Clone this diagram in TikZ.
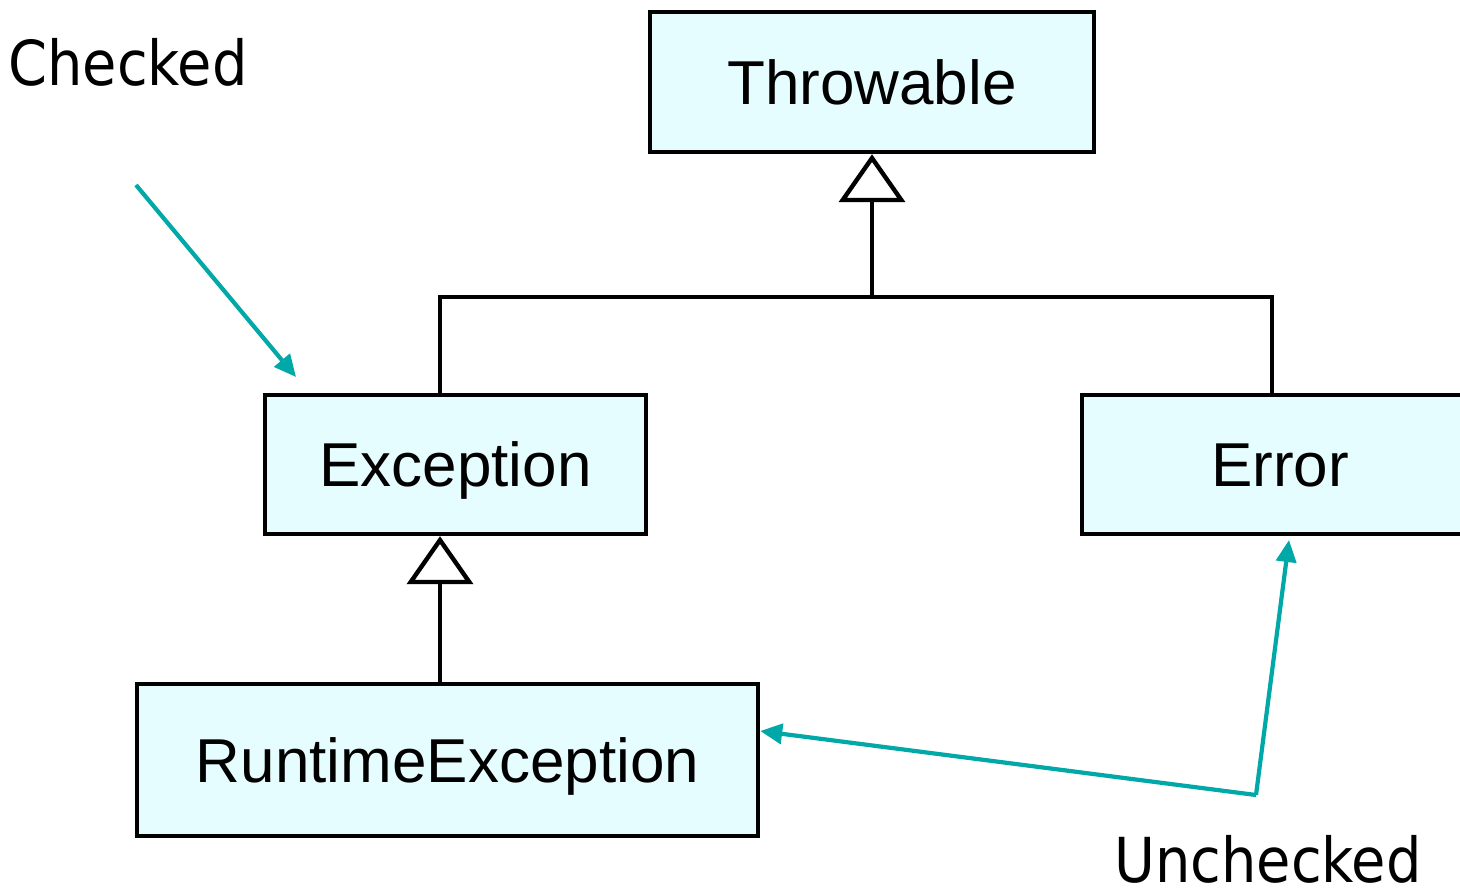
\documentclass[tikz,border=0pt]{standalone}
\usepackage{fontspec}
\setmainfont{Liberation Sans}
\newfontfamily\notefont{DejaVu Sans Condensed}
\usetikzlibrary{arrows.meta}
\definecolor{boxfill}{RGB}{230,253,255}
\definecolor{noteteal}{RGB}{0,168,168}
\tikzset{
  classbox/.style={draw=black, fill=boxfill, line width=2.2pt, rectangle, inner sep=0pt,
    font=\fontsize{31}{36}\selectfont, text height=22.2pt, text depth=0pt},
  inherit/.style={draw=black, line width=2.2pt},
  inherittip/.style={inherit, -{Triangle[open, length=24pt, width=33pt, line width=2.2pt]}},
  notearrow/.style={draw=noteteal, line width=2.1pt, -{Triangle[length=11pt, width=10pt]}},
  notelabel/.style={font=\notefont\fontsize{31}{36}\selectfont, inner sep=0pt}
}
\begin{document}
\begin{tikzpicture}[x=0.5pt, y=-0.5pt]
  \useasboundingbox (0,0) rectangle (1460,889);

  % class boxes
  \node[classbox, minimum width=222pt, minimum height=70pt] (thr) at (872,82) {Throwable};
  \node[classbox, minimum width=190.5pt, minimum height=69.5pt] (exc) at (455.5,464.5) {Exception};
  \node[classbox, minimum width=198pt, minimum height=69.5pt] (err) at (1280,464.5) {Error};
  \node[classbox, minimum width=310.5pt, minimum height=76pt] (rt) at (447.5,760) {RuntimeException};

  % inheritance tree
  \coordinate (j) at (872,297);
  \draw[inherittip] (j) -- (thr.south);
  \draw[inherit] ([xshift=-7.75pt]exc.north) |- (j) -| ([xshift=-4pt]err.north);
  \draw[inherittip] ([xshift=-3.75pt]rt.north) -- ([xshift=-3.75pt]rt.north |- exc.south);

  % annotations
  \node[notelabel] (chk) at (128,62) {Checked};
  \node[notelabel] (unchk) at (1268,859) {Unchecked};
  \coordinate (chkstart) at (136,185);
  \coordinate (chkend) at (296,377);
  \draw[notearrow] (chkstart) -- (chkend);
  \coordinate (u) at (1256,795);
  \coordinate (errpt) at (1289,540);
  \draw[notearrow] (u) -- ([yshift=14.5pt]rt.east);
  \draw[notearrow] (u) -- (errpt);
\end{tikzpicture}
\end{document}
